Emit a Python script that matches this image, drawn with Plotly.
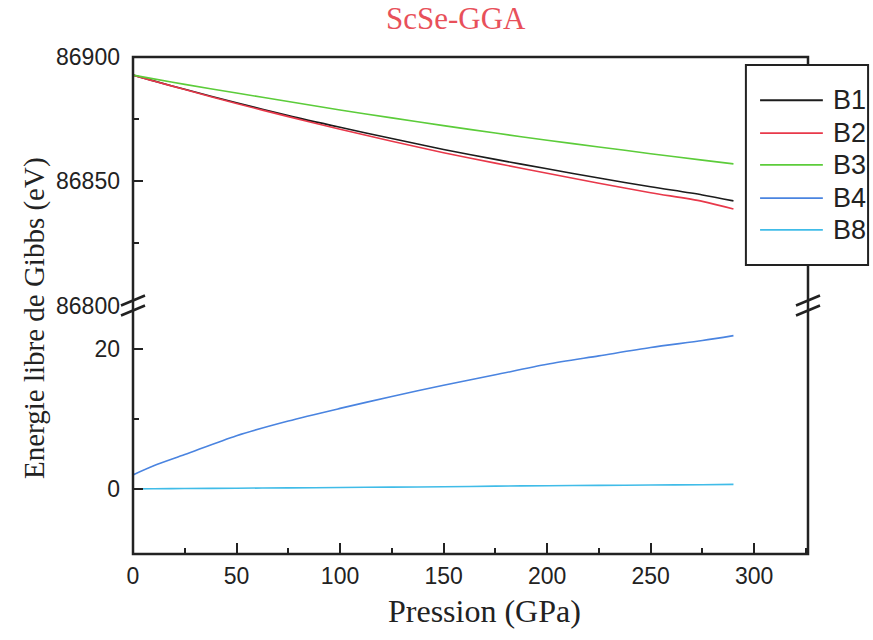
import plotly.graph_objects as go

# Pressure grid (GPa)
pressure = [0, 10, 25, 50, 75, 100, 125, 150, 175, 200, 225, 250, 275, 290]

# Gibbs free energy (eV) for each structure
g_b1 = [86892.7, 86890.4, 86887.0, 86881.6, 86876.4, 86871.7, 86867.2, 86862.8,
        86858.8, 86855.0, 86851.3, 86847.8, 86844.5, 86842.1]
g_b2 = [86892.7, 86890.3, 86886.9, 86881.3, 86876.0, 86870.9, 86866.1, 86861.5,
        86857.3, 86853.2, 86849.2, 86845.4, 86841.9, 86838.8]
g_b3 = [86892.7, 86891.2, 86889.0, 86885.5, 86882.1, 86878.7, 86875.5, 86872.4,
        86869.4, 86866.5, 86863.8, 86861.1, 86858.5, 86857.0]
g_b4 = [2.0, 3.3, 4.9, 7.6, 9.7, 11.5, 13.2, 14.8, 16.3, 17.8, 19.0, 20.2, 21.2, 21.9]
g_b8 = [0.0, 0.02, 0.05, 0.1, 0.15, 0.2, 0.25, 0.3, 0.4, 0.45, 0.5, 0.55, 0.6, 0.65]

names = ["B1", "B2", "B3", "B4", "B8"]
colors = ["#1c1c1c", "#e8384a", "#5ccc3a", "#4a84e0", "#40bce8"]
series = [g_b1, g_b2, g_b3, g_b4, g_b8]
axes = ["y2", "y2", "y2", "y", "y"]

# tick positions and labels
x_ticks = [0, 50, 100, 150, 200, 250, 300]
low_ticks = [0, 20]
high_ticks = [86800, 86850, 86900]
high_labels = ["86800", "86850", "86900"]

fig = go.Figure()
for name, col, vals, ax in zip(names, colors, series, axes):
    fig.add_trace(go.Scatter(x=pressure, y=vals, mode="lines", name=name,
                             yaxis=ax, line=dict(color=col, width=1.6,
                                                 shape="spline", smoothing=0.8),
                             showlegend=False))

tick_font = dict(family="Liberation Sans, Arial, sans-serif", size=23, color="#222")
title_font = dict(family="Liberation Serif, Times New Roman, serif", size=32, color="#222")

common_y = dict(showgrid=False, zeroline=False, showline=False,
                ticks="inside", ticklen=10, tickwidth=2, tickcolor="#222",
                tickfont=tick_font, ticklabelstandoff=12)

fig.update_layout(
    width=873, height=640,
    margin=dict(l=133, r=65, t=57, b=86),
    plot_bgcolor="white", paper_bgcolor="white",
    showlegend=False,
    xaxis=dict(range=[0, 326], showgrid=False, zeroline=False, showline=False,
               anchor="y", tickvals=x_ticks,
               ticks="inside", ticklen=11, tickwidth=2, tickcolor="#222",
               minor=dict(dtick=25, tick0=0, ticks="inside", ticklen=6,
                          tickwidth=2, tickcolor="#222"),
               tickfont=tick_font, ticklabelstandoff=6),
    yaxis=dict(domain=[0, 0.5], range=[-9.3, 26.2], tickvals=low_ticks,
               minor=dict(tickvals=[10], ticks="inside", ticklen=6,
                          tickwidth=2, tickcolor="#222"),
               **common_y),
    yaxis2=dict(domain=[0.5, 1], range=[86800, 86900], anchor="x",
                tickvals=high_ticks, ticktext=high_labels,
                minor=dict(tickvals=[86825, 86875], ticks="inside", ticklen=6,
                           tickwidth=2, tickcolor="#222"),
                **common_y),
)

shapes = []
# plot frame
shapes.append(dict(type="rect", xref="paper", yref="paper", x0=0, x1=1, y0=0, y1=1,
                   line=dict(color="#222", width=2.5), fillcolor="rgba(0,0,0,0)"))
# axis break marks on both sides
for xp in (0, 1):
    for dy in (-5, 5):
        shapes.append(dict(type="line", xref="paper", yref="paper",
                           xsizemode="pixel", ysizemode="pixel",
                           xanchor=xp, yanchor=0.5,
                           x0=-12, x1=12, y0=dy - 5, y1=dy + 5,
                           line=dict(color="#222", width=2.5)))

# legend box
lx0, lx1, ly0, ly1 = 0.908, 1.089, 0.5815, 0.984
shapes.append(dict(type="rect", xref="paper", yref="paper", x0=lx0, x1=lx1,
                   y0=ly0, y1=ly1, fillcolor="white",
                   line=dict(color="#222", width=2)))
annotations = []
row_y = [0.913, 0.847, 0.783, 0.716, 0.652]
for name, col, ry in zip(names, colors, row_y):
    shapes.append(dict(type="line", xref="paper", yref="paper",
                       x0=0.929, x1=1.022, y0=ry, y1=ry,
                       line=dict(color=col, width=1.8)))
    annotations.append(dict(text=name, xref="paper", yref="paper", x=1.034, y=ry,
                            xanchor="left", yanchor="middle", showarrow=False,
                            font=dict(family="Liberation Sans, Arial, sans-serif",
                                      size=27, color="#222")))

# titles
annotations.append(dict(text="ScSe-GGA", xref="paper", yref="paper",
                        x=(456 - 133) / 675, y=1 + (57 - 19) / 497,
                        xanchor="center", yanchor="middle", showarrow=False,
                        font=dict(family="Liberation Serif, Times New Roman, serif",
                                  size=31, color="#e8505a")))
annotations.append(dict(text="Pression (GPa)", xref="paper", yref="paper",
                        x=(484 - 133) / 675, y=-(611 - 554) / 497,
                        xanchor="center", yanchor="middle", showarrow=False,
                        font=title_font))
annotations.append(dict(text="Energie libre de Gibbs (eV)", xref="paper", yref="paper",
                        x=-(133 - 34) / 675, y=(554 - 318) / 497, textangle=-90,
                        xanchor="center", yanchor="middle", showarrow=False,
                        font=dict(family="Liberation Serif, Times New Roman, serif",
                                  size=29, color="#222")))

fig.update_layout(shapes=shapes, annotations=annotations)
fig.write_html("out.html")
